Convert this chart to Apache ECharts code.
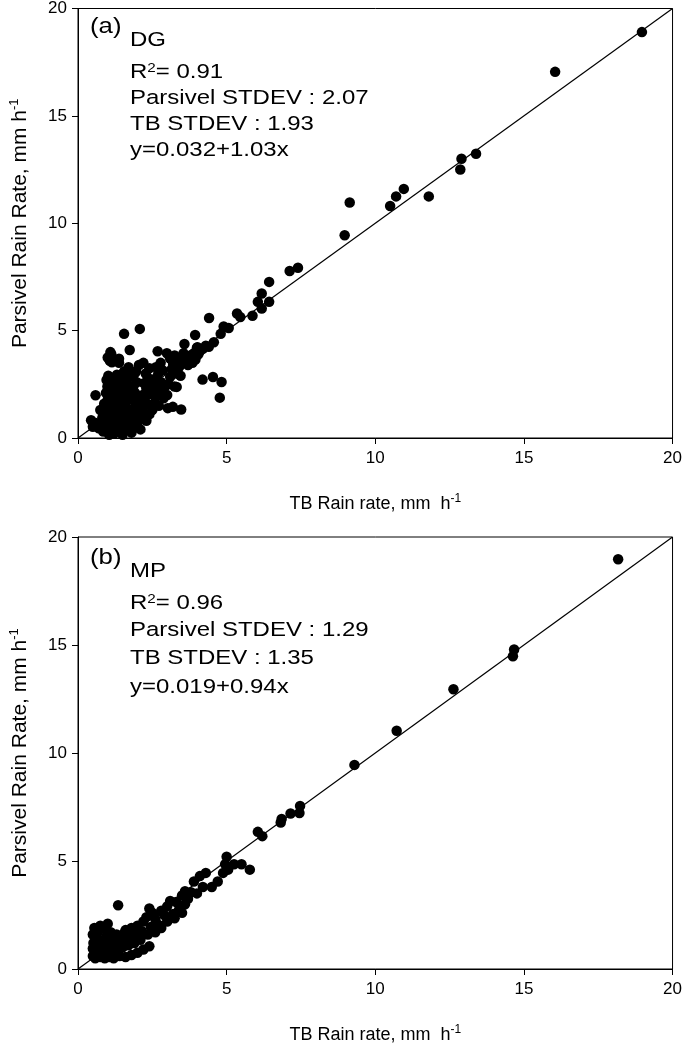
<!DOCTYPE html>
<html>
<head>
<meta charset="utf-8">
<script src="https://cdn.jsdelivr.net/npm/echarts@6/dist/echarts.min.js"></script>
<style>html,body{margin:0;padding:0;background:#fff}#c{width:685px;height:1047px}</style>
</head>
<body>
<div id="c"></div>
<script>
// ---- data ----
const axisTicks = [0, 5, 10, 15, 20];
const oneToOne = [[0, 0], [20, 20]];

const dgPoints = [
  [18.97,18.9],[16.05,17.05],[13.39,13.24],[12.9,13.0],[12.86,12.5],[11.8,11.25],[10.96,11.6],[10.7,11.25],[10.5,10.8],
  [9.14,10.97],[8.97,9.44],[7.4,7.93],[7.12,7.78],[6.43,7.27],[6.18,6.73],[6.05,6.34],[6.43,6.34],[6.18,6.03],[5.87,5.69],
  [5.35,5.8],[5.46,5.63],[4.41,5.59],[4.9,5.19],[5.07,5.12],[4.8,4.85],[3.94,4.8],[4.57,4.46],[4.3,4.3],[4.02,4.23],
  [3.58,4.38],[3.8,3.84],[3.41,3.61],[3.25,3.84],[4.19,2.72],[4.54,2.84],[4.83,2.61],[4.77,1.88],[3.32,2.38],[3.47,1.33],
  [3.19,1.45],[3.02,1.39],
  [1.09,4.0],[1.14,3.53],[1.38,3.69],[1.55,4.85],[1.74,4.1],[2.08,5.08],[2.68,4.04],[2.99,3.95],
  [0.5,0.52],[0.44,0.83],[0.6,0.7],[0.7,0.45],[0.78,0.65],[0.85,0.3],[0.82,0.95],[0.59,1.99],[0.75,1.3],[0.88,1.6],
  [0.92,0.35],[0.95,0.6],[0.98,0.9],[0.93,1.2],[0.97,1.5],[1.0,1.8],[0.94,2.1],[0.99,2.4],[0.96,2.7],[1.02,2.9],
  [1.05,0.15],[1.08,0.5],[1.04,1.05],[1.1,1.35],[1.06,1.65],[1.09,2.0],[1.03,2.25],[1.1,2.6],[1.07,3.6],[1.12,3.9],[1.0,3.75],
  [1.2,0.2],[1.25,0.45],[1.22,0.8],[1.3,1.0],[1.18,1.3],[1.27,1.55],[1.33,1.8],[1.21,2.05],[1.29,2.3],[1.35,2.55],[1.24,2.8],
  [1.38,0.3],[1.4,0.65],[1.36,1.2],[1.42,1.45],[1.39,2.0],[1.31,2.95],[1.4,2.75],[1.38,3.5],
  [1.5,0.15],[1.55,0.4],[1.48,0.75],[1.58,0.95],[1.52,1.25],[1.6,1.5],[1.47,1.7],[1.56,1.95],[1.62,2.2],[1.5,2.45],[1.59,2.7],
  [1.65,0.6],[1.68,1.1],[1.7,1.8],[1.66,2.5],[1.72,2.95],[1.55,3.1],[1.7,3.3],
  [1.8,0.25],[1.85,0.5],[1.78,0.85],[1.9,1.0],[1.83,1.35],[1.95,1.6],[1.8,1.9],[1.92,2.1],[1.86,2.4],[1.98,2.6],[1.82,2.85],
  [2.0,0.7],[1.97,1.25],[2.02,1.85],[1.95,3.1],[2.05,3.4],[1.9,3.0],
  [2.1,0.4],[2.15,0.9],[2.2,1.2],[2.12,1.5],[2.25,1.75],[2.18,2.0],[2.3,2.3],[2.22,2.55],[2.35,2.8],[2.28,3.0],[2.4,1.1],
  [2.38,1.55],[2.42,2.05],[2.45,2.6],[2.4,3.25],[2.2,3.5],[2.3,0.8],
  [2.5,1.3],[2.55,1.6],[2.6,1.9],[2.52,2.2],[2.65,2.45],[2.58,2.75],[2.7,3.0],[2.62,3.3],[2.75,2.1],[2.8,2.6],[2.85,3.15],
  [2.78,3.5],[2.9,2.35],[2.88,1.85],[2.72,1.5],
  [3.0,2.0],[3.05,2.5],[3.1,2.85],[3.15,3.2],[3.2,3.45],[3.1,3.7],[3.25,2.4],[3.3,3.0],[3.35,3.6],[3.4,3.3],[3.45,2.9],
  [3.5,3.55],[3.55,3.95],[3.6,3.75],
  [3.7,3.4],[3.75,3.7],[3.8,3.85],[3.85,3.5],[3.9,3.95],[3.95,3.65],[4.0,4.2],[4.05,3.9],[4.1,4.05],[4.4,4.25],[4.2,4.15]
];

const mpPoints = [
  [18.17,18.97],[14.67,14.79],[14.63,14.48],[12.63,12.95],[10.72,11.03],[9.3,9.45],
  [7.47,7.55],[7.45,7.22],[7.15,7.2],[6.85,6.95],[6.82,6.78],[6.05,6.35],[6.2,6.15],[5.78,4.6],[5.5,4.85],[5.25,4.85],
  [5.0,5.2],[4.95,4.85],[5.05,4.6],[4.7,4.05],[4.5,3.8],[4.88,4.45],[4.3,4.45],[4.1,4.3],[3.9,4.05],[3.6,3.6],
  [3.5,3.4],[3.8,3.55],[4.0,3.5],[4.2,3.8],[3.6,3.0],[3.3,3.1],[3.1,3.15],[3.0,2.9],[3.4,2.75],[3.7,3.25],[2.8,2.7],
  [2.5,2.6],[2.4,2.8],[2.3,2.4],[2.2,2.2],[2.0,2.0],[1.8,1.9],[1.6,1.8],[1.35,2.95],[2.9,2.5],[2.6,2.3],[2.7,2.05],
  [3.2,2.55],[2.45,1.95],[2.15,1.75],[2.35,1.6],[1.95,1.55],[1.75,1.45],[1.5,1.5],[1.3,1.6],[1.1,1.7],[0.9,1.85],
  [0.75,2.0],[0.55,1.9],[0.5,1.6],[0.6,1.4],[0.52,1.2],[0.7,1.15],[0.5,0.95],[0.65,0.8],[0.5,0.6],[0.58,0.5],
  [0.75,0.55],[0.9,0.5],[1.05,0.55],[1.2,0.5],[1.4,0.6],[1.6,0.55],[1.8,0.65],[2.0,0.75],[2.2,0.9],[2.4,1.05],
  [0.8,0.9],[1.0,0.8],[1.15,1.0],[1.3,0.85],[1.5,1.0],[1.7,1.1],[1.9,1.2],[2.1,1.35],[0.85,1.3],[1.0,1.2],[1.2,1.35],
  [1.45,1.25],[1.65,1.3],[0.95,1.5],[1.25,1.15],[2.6,1.7],[2.8,1.9],[3.0,2.2],[3.25,2.35],[3.5,2.6],[2.55,2.45],
  [2.05,1.6],[1.85,1.7],[1.55,1.65],[1.0,2.1],[0.65,1.65],[0.72,0.72],[0.6,1.05],[1.1,0.68]
];

const info = {
  dg: { tag: '(a)', site: 'DG', r2: '0.91', pstd: '2.07', tstd: '1.93', eq: 'y=0.032+1.03x' },
  mp: { tag: '(b)', site: 'MP', r2: '0.96', pstd: '1.29', tstd: '1.35', eq: 'y=0.019+0.94x' }
};

// ---- chart ----
const FONT = 'Arial, "Liberation Sans", sans-serif';
const chart = echarts.init(document.getElementById('c'), null, { renderer: 'canvas' });

function xAxisCfg(gi) {
  return {
    gridIndex: gi, type: 'value', min: 0, max: 20, interval: 5,
    name: 'TB Rain rate, mm  h{sup|-1}', nameLocation: 'middle', nameGap: 55,
    nameTextStyle: { color: '#000', fontFamily: FONT, fontSize: 18, lineHeight: 22,
      rich: { sup: { fontSize: 12, verticalAlign: 'top', lineHeight: 12, color: '#000', fontFamily: FONT } } },
    axisLine: { show: true, lineStyle: { color: '#000', width: 1 } },
    axisTick: { show: true, inside: false, length: 6, lineStyle: { color: '#000' } },
    axisLabel: { color: '#000', fontFamily: FONT, fontSize: 17, margin: 12,
      formatter: v => axisTicks.includes(v) ? String(v) : '' },
    splitLine: { show: false }
  };
}
function yAxisCfg(gi) {
  return {
    gridIndex: gi, type: 'value', min: 0, max: 20, interval: 5,
    name: 'Parsivel Rain Rate, mm h{sup|-1}', nameLocation: 'middle', nameGap: 46, nameRotate: 90,
    nameTextStyle: { color: '#000', fontFamily: FONT, fontSize: 21, lineHeight: 24,
      rich: { sup: { fontSize: 13, verticalAlign: 'top', lineHeight: 13, color: '#000', fontFamily: FONT } } },
    axisLine: { show: true, lineStyle: { color: '#000', width: 1 } },
    axisTick: { show: true, inside: false, length: 6, lineStyle: { color: '#000' } },
    axisLabel: { color: '#000', fontFamily: FONT, fontSize: 17, margin: 11,
      formatter: v => axisTicks.includes(v) ? String(v) : '' },
    splitLine: { show: false }
  };
}

function annot(d, tops, tagPos) {
  const els = [];
  const base = { fill: '#000', fontFamily: FONT, fontSize: 20.5, align: 'left', verticalAlign: 'middle',
                 textAlign: 'left', textVerticalAlign: 'middle', x: 0, y: 0 };
  els.push({ type: 'text', x: tagPos[0], y: tagPos[1], scaleX: 1.17,
             style: Object.assign({}, base, { text: d.tag, fontSize: 22 }) });
  const lines = [
    d.site,
    'R{sup|2}= ' + d.r2,
    'Parsivel STDEV : ' + d.pstd,
    'TB STDEV : ' + d.tstd,
    d.eq
  ];
  lines.forEach((t, i) => {
    els.push({ type: 'text', x: 130, y: tops[i], scaleX: 1.17, style: Object.assign({}, base, {
      text: t,
      rich: { sup: { fontSize: 13, verticalAlign: 'top', lineHeight: 13, fill: '#000', fontFamily: FONT } }
    }) });
  });
  return els;
}

const option = {
  backgroundColor: '#fff',
  animation: false,
  grid: [
    { left: 74, top: 6, width: 602, height: 432, show: true, borderColor: '#000', borderWidth: 1 },
    { left: 74, top: 537, width: 602, height: 434, show: true, borderColor: '#000', borderWidth: 1 }
  ],
  xAxis: [xAxisCfg(0), xAxisCfg(1)],
  yAxis: [yAxisCfg(0), yAxisCfg(1)],
  series: [
    { type: 'scatter', xAxisIndex: 0, yAxisIndex: 0, data: dgPoints, symbolSize: 10.5,
      itemStyle: { color: '#000', opacity: 1 }, z: 3 },
    { type: 'line', xAxisIndex: 0, yAxisIndex: 0, data: oneToOne, showSymbol: false, symbol: 'none',
      lineStyle: { color: '#000', width: 1.2 }, z: 2 },
    { type: 'scatter', xAxisIndex: 1, yAxisIndex: 1, data: mpPoints, symbolSize: 10.5,
      itemStyle: { color: '#000', opacity: 1 }, z: 3 },
    { type: 'line', xAxisIndex: 1, yAxisIndex: 1, data: oneToOne, showSymbol: false, symbol: 'none',
      lineStyle: { color: '#000', width: 1.2 }, z: 2 }
  ],
  graphic: [].concat(
    annot(info.dg, [40, 72, 98, 124, 150], [90, 27]),
    annot(info.mp, [571, 603, 630, 658, 687], [90, 558])
  )
};
chart.setOption(option);
</script>
</body>
</html>
